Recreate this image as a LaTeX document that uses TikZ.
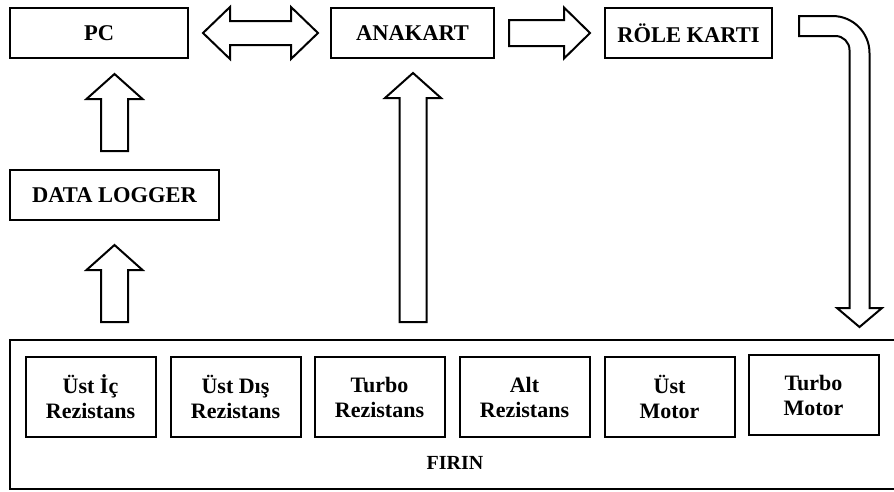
\documentclass[tikz,border=0pt]{standalone}
\usepackage{fontspec}
\setmainfont{Liberation Serif}
\usetikzlibrary{calc}

\tikzset{
  kutu/.style={draw, line width=2pt, inner sep=0pt, outer sep=0pt, minimum height=50pt,
    font=\fontsize{22.5}{26}\selectfont\bfseries},
  parca/.style={draw, line width=2pt, inner sep=0pt, outer sep=0pt, minimum width=130pt,
    minimum height=80pt, align=center, font=\fontsize{22}{25}\selectfont\bfseries},
  blok/.style={draw, line width=2pt, fill=white, line join=miter},
}

% block arrows: #1 = tail, #2 = tip
\newcommand{\okyukari}[2]{%
  \draw[blok] let \p1=(#1), \p2=(#2) in
    (\x1-13.5pt,\y1) -- (\x1-13.5pt,\y2-25pt) -- (\x1-28pt,\y2-25pt) -- (\x1,\y2)
    -- (\x1+28pt,\y2-25pt) -- (\x1+13.5pt,\y2-25pt) -- (\x1+13.5pt,\y1) -- cycle;}
\newcommand{\oksag}[2]{%
  \draw[blok] let \p1=(#1), \p2=(#2) in
    (\x1,\y1+13pt) -- (\x2-26pt,\y1+13pt) -- (\x2-26pt,\y1+25.5pt) -- (\x2,\y1)
    -- (\x2-26pt,\y1-25.5pt) -- (\x2-26pt,\y1-13pt) -- (\x1,\y1-13pt) -- cycle;}
\newcommand{\okcift}[2]{%
  \draw[blok] let \p1=(#1), \p2=(#2) in
    (\x1,\y1) -- (\x1+27pt,\y1+26pt) -- (\x1+27pt,\y1+12pt) -- (\x2-27pt,\y1+12pt)
    -- (\x2-27pt,\y1+26pt) -- (\x2,\y1) -- (\x2-27pt,\y1-26pt) -- (\x2-27pt,\y1-12pt)
    -- (\x1+27pt,\y1-12pt) -- (\x1+27pt,\y1-26pt) -- cycle;}

\begin{document}
\begin{tikzpicture}[x=1pt, y=-1pt]
  \useasboundingbox (0,0) rectangle (894,491);

  % Upper row
  \node[kutu, minimum width=178pt] (pc) at (99,33) {PC};
  \node[kutu, minimum width=163pt] (anakart) at (412.5,33) {ANAKART};
  \node[kutu, minimum width=167pt] (role) at (688.5,33) {RÖLE KARTI};
  \node[kutu, minimum width=209pt] (logger) at (114.5,195) {DATA LOGGER};

  % Oven and its parts
  \node[draw, line width=2pt, inner sep=0pt, outer sep=0pt, minimum width=890pt,
    minimum height=149pt, anchor=north west] (firin) at (10,340) {};
  \node[font=\fontsize{20}{24}\selectfont\bfseries] (firinad) at (455,463) {FIRIN};
  \node[parca] (uic) at (90.5,397) {Üst İç\\Rezistans};
  \node[parca] (udis) at (235.5,397) {Üst Dış\\Rezistans};
  \node[parca] (turbor) at (379.5,397) {Turbo\\Rezistans};
  \node[parca] (alt) at (524.5,397) {Alt\\Rezistans};
  \node[parca] (umotor) at (669.5,397) {Üst\\Motor};
  \node[parca] (tmotor) at (813.5,395) {Turbo\\Motor};

  % Arrow ends
  \coordinate (a1) at ([yshift=19pt]logger.north);
  \coordinate (a1u) at ([yshift=-16pt]pc.south);
  \coordinate (a2) at ($(logger.south |- firin.north)+(0,-18)$);
  \coordinate (a2u) at ([yshift=-25pt]logger.south);
  \coordinate (a3) at ($(anakart.south |- firin.north)+(0.5,-18)$);
  \coordinate (a3u) at ([yshift=-15pt]anakart.south);
  \coordinate (s1) at ([xshift=15pt]anakart.east);
  \coordinate (s1u) at ([xshift=-15pt]role.west);
  \coordinate (c1) at ([xshift=15pt]pc.east);
  \coordinate (c1u) at ([xshift=-13pt]anakart.west);
  \coordinate (b1) at ($(role.east)+(27,-7)$);
  \coordinate (b1u) at ($(role.east |- firin.north)+(87.5,-13)$);

  % Arrows
  \okyukari{a1}{a1u}
  \okyukari{a2}{a2u}
  \okyukari{a3}{a3u}
  \oksag{s1}{s1u}
  \okcift{c1}{c1u}

  % Bent arrow from the relay card down to the oven
  \draw[blok] let \p1=(b1), \p2=(b1u) in
    (\x1,\y1+10pt) -- (\x2-27pt,\y1+10pt) arc[start angle=90, end angle=0, radius=37pt]
    -- (\x2+10pt,\y2+19pt) -- (\x2+22.5pt,\y2+19pt) -- (\x2,\y2)
    -- (\x2-22.5pt,\y2+19pt) -- (\x2-10pt,\y2+19pt) -- (\x2-10pt,\y1-24pt)
    arc[start angle=0, end angle=90, radius=14pt] -- (\x1,\y1-10pt) -- cycle;
\end{tikzpicture}
\end{document}
